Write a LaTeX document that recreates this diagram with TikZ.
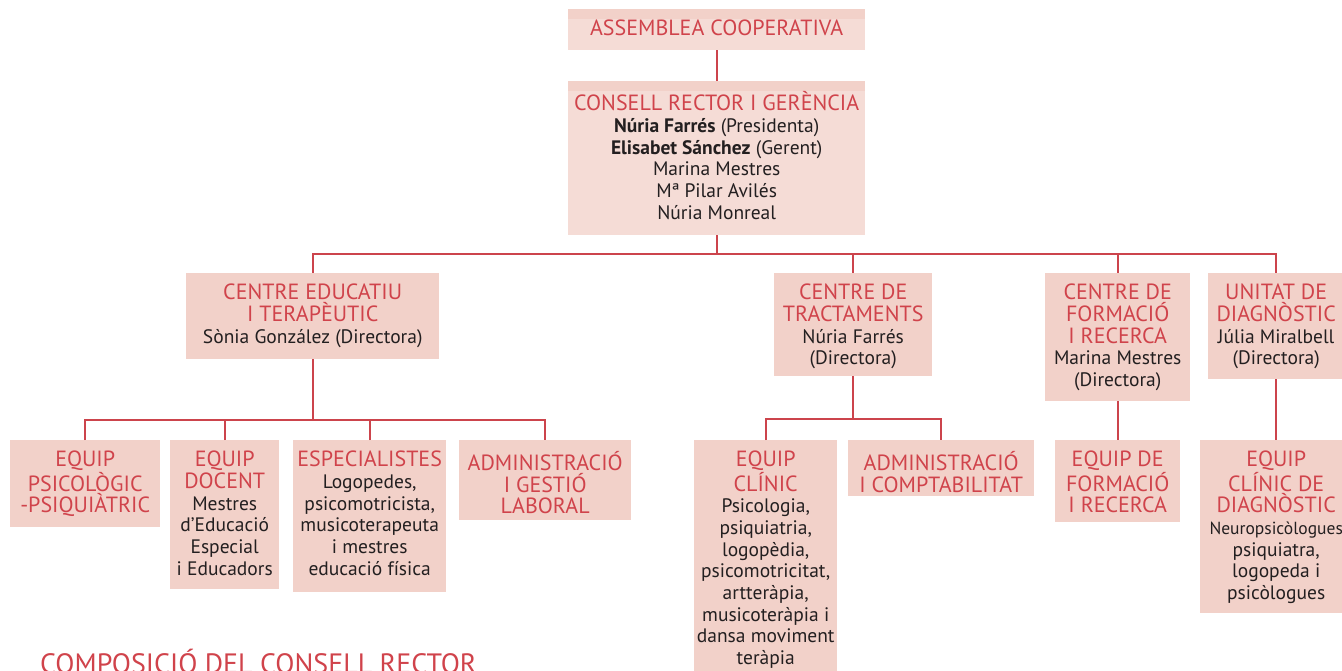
\documentclass[tikz,border=0pt]{standalone}
\usepackage{fontspec}
\setmainfont{PT Sans}
\definecolor{boxfill}{HTML}{F2D1C9}
\definecolor{boxlight}{HTML}{F5DCD6}
\definecolor{titlered}{HTML}{D0434B}
\definecolor{linered}{HTML}{CC444C}
\definecolor{txt}{HTML}{231F20}
\tikzset{
  box/.style={fill=boxfill, draw=none, inner sep=0pt, anchor=north west},
  lbox/.style={box, fill=boxlight},
  lbl/.style={anchor=north, inner sep=0pt, align=center, font=\fontsize{19.5}{21.7}\selectfont, text=txt},
  conn/.style={draw=linered, line width=1.8pt},
}
\newcommand{\tl}[1]{{\color{titlered}\fontsize{22}{21.7}\selectfont #1}}
\newcommand{\st}{\rule{0pt}{15pt}}
\begin{document}
\begin{tikzpicture}[x=1pt,y=-1pt]
\useasboundingbox (0,0) rectangle (1342,671);
\clip (0,0) rectangle (1342,671);
% boxes
\node[lbox, minimum width=297pt, minimum height=41pt] (assemblea) at (568,9) {};
\fill[boxfill] (assemblea.north west) rectangle ([yshift=-10pt]assemblea.north east);
\node[lbox, minimum width=297pt, minimum height=154pt] (consell) at (568,81) {};
\fill[boxfill] (consell.north west) rectangle ([yshift=-10pt]consell.north east);
\node[box, minimum width=253pt, minimum height=86pt] (cet) at (186,273) {};
\node[box, minimum width=158pt, minimum height=103pt] (ct) at (774,273) {};
\node[box, minimum width=145pt, minimum height=128pt] (cfr) at (1045,273) {};
\node[box, minimum width=136pt, minimum height=106pt] (ud) at (1208,273) {};
\node[box, minimum width=150pt, minimum height=87pt] (eps) at (10,440) {};
\node[box, minimum width=109pt, minimum height=149pt] (ed) at (170,440) {};
\node[box, minimum width=153pt, minimum height=152pt] (esp) at (293,440) {};
\node[box, minimum width=172pt, minimum height=80pt] (agl) at (459,440) {};
\node[box, minimum width=143pt, minimum height=240pt] (ec) at (694,440) {};
\node[box, minimum width=186pt, minimum height=56pt] (ac) at (848,440) {};
\node[box, minimum width=125pt, minimum height=82pt] (efr) at (1055,440) {};
\node[box, minimum width=152pt, minimum height=173pt] (ecd) at (1200,440) {};
% texts
\node[lbl] (assemblea-t) at ([yshift=-11pt]assemblea.north) {\st\tl{ASSEMBLEA COOPERATIVA}};
\node[lbl] (consell-t) at ([yshift=-10.5pt]consell.north) {\st\tl{CONSELL RECTOR I GERÈNCIA}\\\textbf{Núria Farrés} (Presidenta)\\\textbf{Elisabet Sánchez} (Gerent)\\Marina Mestres\\Mª Pilar Avilés\\Núria Monreal};
\node[lbl] (cet-t) at ([yshift=-11pt]cet.north) {\st\tl{CENTRE EDUCATIU}\\\tl{I TERAPÈUTIC}\\Sònia González (Directora)};
\node[lbl] (ct-t) at ([yshift=-11pt]ct.north) {\st\tl{CENTRE DE}\\\tl{TRACTAMENTS}\\Núria Farrés\\(Directora)};
\node[lbl] (cfr-t) at ([yshift=-11pt]cfr.north) {\st\tl{CENTRE DE}\\\tl{FORMACIÓ}\\\tl{I RECERCA}\\Marina Mestres\\(Directora)};
\node[lbl] (ud-t) at ([yshift=-11pt]ud.north) {\st\tl{UNITAT DE}\\\tl{DIAGNÒSTIC}\\Júlia Miralbell\\(Directora)};
\node[lbl] (eps-t) at ([yshift=-11pt]eps.north) {\st\tl{EQUIP}\\\tl{PSICOLÒGIC}\\\tl{-PSIQUIÀTRIC}};
\node[lbl] (ed-t) at ([yshift=-11pt]ed.north) {\st\tl{EQUIP}\\\tl{DOCENT}\\Mestres\\d’Educació\\Especial\\i Educadors};
\node[lbl] (esp-t) at ([yshift=-11pt]esp.north) {\st\tl{ESPECIALISTES}\\Logopedes,\\psicomotricista,\\musicoterapeuta\\i mestres\\educació física};
\node[lbl] (agl-t) at ([yshift=-11pt]agl.north) {\st\tl{ADMINISTRACIÓ}\\\tl{I GESTIÓ}\\\tl{LABORAL}};
\node[lbl] (ec-t) at ([yshift=-11pt]ec.north) {\st\tl{EQUIP}\\\tl{CLÍNIC}\\Psicologia,\\psiquiatria,\\logopèdia,\\psicomotricitat,\\artteràpia,\\musicoteràpia i\\dansa moviment\\teràpia};
\node[lbl] (ac-t) at ([yshift=-11pt]ac.north) {\st\tl{ADMINISTRACIÓ}\\\tl{I COMPTABILITAT}};
\node[lbl] (efr-t) at ([yshift=-11pt]efr.north) {\st\tl{EQUIP DE}\\\tl{FORMACIÓ}\\\tl{I RECERCA}};
\node[lbl] (ecd-t) at ([yshift=-11pt]ecd.north) {\st\tl{EQUIP}\\\tl{CLÍNIC DE}\\\tl{DIAGNÒSTIC}\\{\fontsize{17.5}{21.7}\selectfont Neuropsicòlogues}\\psiquiatra,\\logopeda i\\psicòlogues};
\node[anchor=base west, inner sep=0pt, text=titlered, font=\fontsize{28}{32}\selectfont] (comp) at (40,673) {COMPOSICIÓ DEL CONSELL RECTOR};
% connectors
\coordinate (h1) at (716,254);
\coordinate (h2) at (313,420);
\coordinate (h3) at (853,419);
\draw[conn] (assemblea.south) -- (consell.north);
\draw[conn] (consell.south) -- (consell.south |- h1);
\draw[conn] (cet.north) |- (ud.north |- h1) -- (ud.north);
\draw[conn] (ct.north) -- (ct.north |- h1);
\draw[conn] (cfr.north) -- (cfr.north |- h1);
\draw[conn] (cet.south) -- (cet.south |- h2);
\draw[conn] (eps.north) |- (agl.north |- h2) -- (agl.north);
\draw[conn] (ed.north) -- (ed.north |- h2);
\draw[conn] (esp.north) -- (esp.north |- h2);
\draw[conn] (ct.south) -- (ct.south |- h3);
\draw[conn] (ec.north) |- (ac.north |- h3) -- (ac.north);
\draw[conn] (cfr.south) -- (efr.north);
\draw[conn] (ud.south) -- (ecd.north);
\end{tikzpicture}
\end{document}
